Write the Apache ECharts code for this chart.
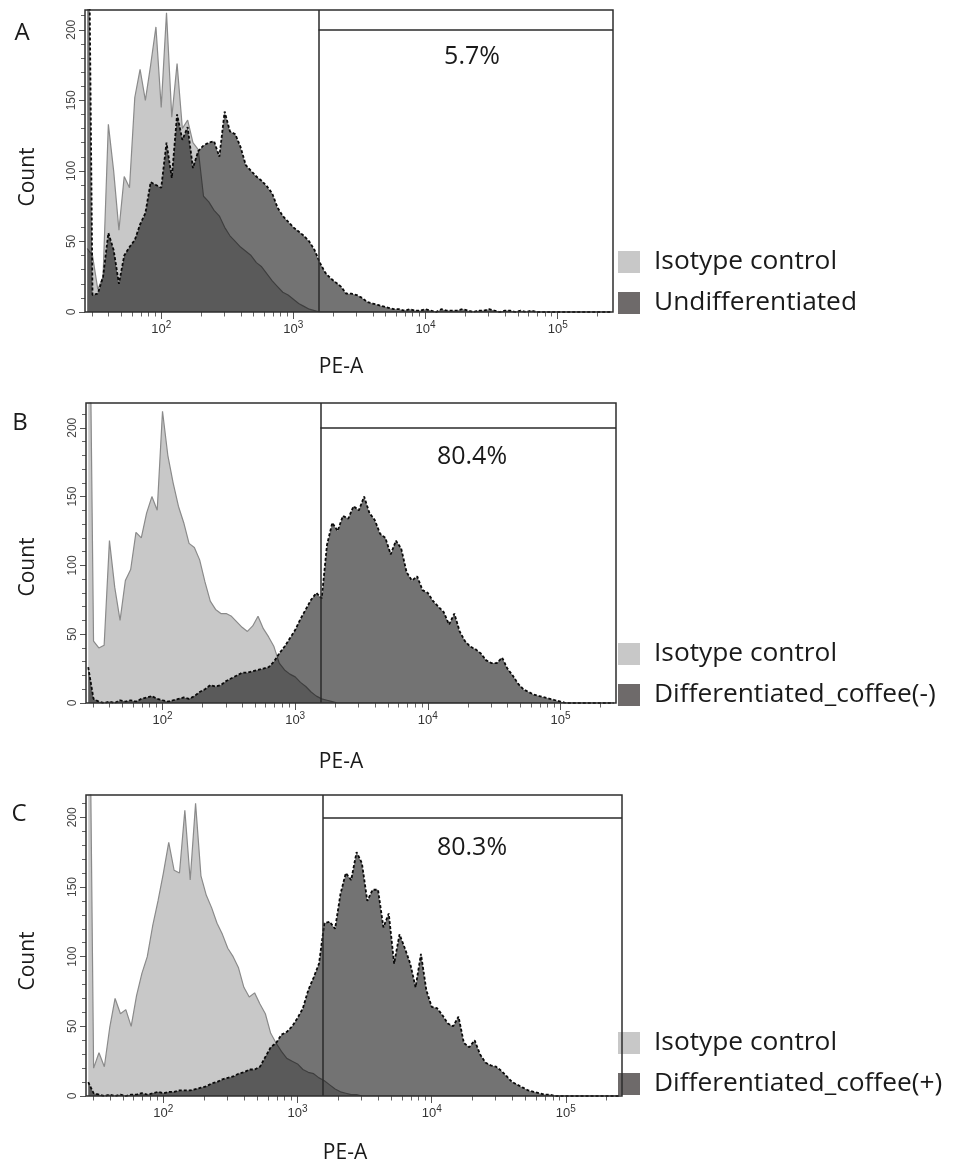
<!DOCTYPE html>
<html><head><meta charset="utf-8">
<script src="https://cdn.jsdelivr.net/npm/echarts@6/dist/echarts.min.js"></script>
<style>html,body{margin:0;padding:0;background:#fff}#c{width:958px;height:1169px}</style>
</head><body><div id="c"></div>
<script>
// bin centres, log10(PE-A)
const binLog = [
1.44,1.48,1.52,1.56,1.60,1.64,1.68,1.72,1.76,1.80,
1.84,1.88,1.92,1.96,2.00,2.04,2.08,2.12,2.16,2.20,
2.24,2.28,2.32,2.36,2.40,2.44,2.48,2.52,2.56,2.60,
2.64,2.68,2.72,2.76,2.80,2.84,2.88,2.92,2.96,3.00,
3.04,3.08,3.12,3.16,3.20,3.24,3.28,3.32,3.36,3.40,
3.44,3.48,3.52,3.56,3.60,3.64,3.68,3.72,3.76,3.80,
3.84,3.88,3.92,3.96,4.00,4.04,4.08,4.12,4.16,4.20,
4.24,4.28,4.32,4.36,4.40,4.44,4.48,4.52,4.56,4.60,
4.64,4.68,4.72,4.76,4.80,4.84,4.88,4.92,4.96,5.00,
5.04,5.08,5.12,5.16,5.20,5.24,5.28,5.32,5.36,5.40];

const isoA = [
45,40,16,25,133,100,58,96,88,152,
172,150,175,202,145,212,138,176,130,136,
120,115,82,78,72,68,60,54,50,46,
43,40,35,32,27,22,18,14,12,9,
6,4,2,1,0,0,0,0,0,0,
0,0,0,0,0,0,0,0,0,0,
0,0,0,0,0,0,0,0,0,0,
0,0,0,0,0,0,0,0,0,0,
0,0,0,0,0,0,0,0,0,0,
0,0,0,0,0,0,0,0,0,0];
const sampleA = [
400,12,13,25,56,44,20,40,46,51,
62,70,92,90,88,120,95,140,122,131,
102,114,118,120,121,110,142,128,126,117,
104,100,96,93,89,84,74,68,64,60,
57,54,50,44,35,28,24,21,18,13,
13,12,10,7,6,5,4,3,2,2,
1,2,1,1,2,1,0,2,1,1,
1,2,1,0,1,1,2,1,0,1,
1,0,1,0,1,0,0,0,0,0,
0,0,0,0,0,0,0,0,0,0];
const isoB = [
400,45,40,42,118,84,60,89,97,124,
120,138,150,140,212,180,160,143,131,116,
113,104,88,74,68,65,65,63,59,55,
52,56,63,54,48,41,29,24,21,19,
15,12,8,5,3,2,1,0,0,0,
0,0,0,0,0,0,0,0,0,0,
0,0,0,0,0,0,0,0,0,0,
0,0,0,0,0,0,0,0,0,0,
0,0,0,0,0,0,0,0,0,0,
0,0,0,0,0,0,0,0,0,0];
const sampleB = [
26,3,1,0,1,0,2,1,2,1,
3,4,5,3,2,1,2,3,4,3,
5,8,10,13,12,13,16,18,20,22,
22,23,24,25,26,30,36,41,47,53,
61,68,75,80,76,115,131,125,136,134,
143,140,150,138,133,123,120,108,118,112,
95,89,92,82,80,74,70,66,57,65,
52,45,41,39,36,31,29,29,33,25,
20,14,10,8,6,5,4,3,2,1,
0,0,0,0,0,0,0,0,0,0];
const isoC = [
400,20,31,21,49,70,59,62,50,72,
88,100,122,140,160,182,162,160,205,155,
210,158,144,135,124,116,106,100,92,78,
71,74,66,59,45,38,32,27,25,23,
19,17,16,13,11,8,5,3,2,1,
1,0,0,0,0,0,0,0,0,0,
0,0,0,0,0,0,0,0,0,0,
0,0,0,0,0,0,0,0,0,0,
0,0,0,0,0,0,0,0,0,0,
0,0,0,0,0,0,0,0,0,0];
const sampleC = [
10,2,1,0,1,0,1,0,1,1,
2,1,2,3,2,3,3,4,4,4,
5,6,7,9,10,12,13,14,16,17,
19,19,21,28,35,38,44,46,50,56,
63,76,85,95,124,125,120,145,160,155,
175,167,140,148,148,121,131,95,116,106,
95,78,102,76,64,63,58,52,50,57,
38,35,40,30,24,22,21,18,14,10,
8,6,4,3,2,1,1,0,0,0,
0,0,0,0,0,0,0,0,0,0];

const isoName = 'Isotype control';
const sampleNames = ['Undifferentiated', 'Differentiated_coffee(-)', 'Differentiated_coffee(+)'];
const panelLetters = ['A', 'B', 'C'];
const percentLabels = ['5.7%', '80.4%', '80.3%'];
const xMajorTicks = [100, 1000, 10000, 100000];
const xMinorTicks = [30,40,50,60,70,80,90,200,300,400,500,600,700,800,900,
  2000,3000,4000,5000,6000,7000,8000,9000,20000,30000,40000,50000,60000,70000,80000,90000,200000];
const yMajorTicks = [0, 50, 100, 150, 200];
const yMinorTicks = [10,20,30,40,60,70,80,90,110,120,130,140,160,170,180,190,210];
const xRange = [26.5, 262143];
const gateValue = 1550;
const gateCount = 200;

const isoData = [isoA, isoB, isoC];
const sampleData = [sampleA, sampleB, sampleC];

const layout = [
  {left:85, top:10, width:528, height:302, yMax:214, legendTop:249, letter:[22,33], count:[28,177], pe:[341,367], pct:[472,57]},
  {left:86, top:403, width:530, height:300, yMax:218, legendTop:641, letter:[20,423], count:[28,567], pe:[341,762], pct:[472,457]},
  {left:86, top:795, width:536, height:301, yMax:216, legendTop:1030, letter:[19,814], count:[28,961], pe:[345,1153], pct:[472,848]}
];

const L = Math.log10;
const xMin = L(xRange[0]), xMax = L(xRange[1]);
const gLog = L(gateValue);
const FONT = 'Open Sans';
const TICKFONT = 'Liberation Sans';

const grids = [], xAxes = [], yAxes = [], series = [], legends = [], graphics = [];
layout.forEach((g, p) => {
  grids.push({left:g.left, top:g.top, width:g.width, height:g.height, show:true,
    borderColor:'#2e2e2e', borderWidth:1.5, backgroundColor:'rgba(0,0,0,0)', z:10});
  const baseX = {type:'value', gridIndex:p, position:'bottom', offset:0, min:xMin, max:xMax,
    axisLine:{show:false}, splitLine:{show:false}};
  xAxes.push(Object.assign({}, baseX, {
    axisTick:{show:true, length:7, customValues:xMajorTicks.map(L), lineStyle:{color:'#555', width:1}},
    axisLabel:{show:true, customValues:xMajorTicks.map(L), margin:8,
      formatter: v => '{b|10}{s|' + Math.round(v) + '}',
      rich:{b:{fontSize:13, fontFamily:TICKFONT, color:'#333', lineHeight:16, verticalAlign:'bottom'},
            s:{fontSize:10, fontFamily:TICKFONT, color:'#333', lineHeight:10, verticalAlign:'top'}}}
  }));
  xAxes.push(Object.assign({}, baseX, {
    axisTick:{show:true, length:4.5, customValues:xMinorTicks.map(L), lineStyle:{color:'#666', width:1}},
    axisLabel:{show:false}
  }));
  const baseY = {type:'value', gridIndex:p, position:'left', offset:0, min:0, max:g.yMax,
    axisLine:{show:false}, splitLine:{show:false}};
  yAxes.push(Object.assign({}, baseY, {
    axisTick:{show:true, length:6, customValues:yMajorTicks, lineStyle:{color:'#555', width:1}},
    axisLabel:{show:true, customValues:yMajorTicks, rotate:90, margin:7, fontSize:12, fontFamily:TICKFONT, color:'#444'}
  }));
  yAxes.push(Object.assign({}, baseY, {
    axisTick:{show:true, length:4, customValues:yMinorTicks, lineStyle:{color:'#666', width:1}},
    axisLabel:{show:false}
  }));
  const xi = 2 * p, yi = 2 * p;
  series.push({
    type:'line', name:isoName, xAxisIndex:xi, yAxisIndex:yi,
    data: binLog.map((x, i) => [x, isoData[p][i]]),
    symbol:'none', silent:true, animation:false, z:2,
    itemStyle:{color:'#c8c8c8'},
    lineStyle:{color:'#8a8a8a', width:1.2},
    areaStyle:{color:'#c8c8c8', opacity:1}
  });
  series.push({
    type:'line', name:sampleNames[p], xAxisIndex:xi, yAxisIndex:yi,
    data: binLog.map((x, i) => [x, sampleData[p][i]]),
    symbol:'none', silent:true, animation:false, z:3,
    itemStyle:{color:'#6e6a6a'},
    lineStyle:{color:'#0a0a0a', width:1.8, type:[3,2]},
    areaStyle:{color:'rgba(0,0,0,0.55)', opacity:1},
    markLine:{
      silent:true, animation:false, symbol:['none','none'],
      label:{show:false},
      lineStyle:{color:'#2a2a2a', width:1.5, type:'solid'},
      data:[
        [{coord:[gLog, 0]}, {coord:[gLog, g.yMax]}],
        [{coord:[gLog, gateCount]}, {coord:[xMax, gateCount]}]
      ]
    }
  });
  legends.push({
    orient:'vertical', left:618, top:g.legendTop, padding:0, itemWidth:22, itemHeight:22, itemGap:15,
    icon:'rect', selectedMode:false,
    data:[{name:isoName, itemStyle:{color:'#c8c8c8', borderWidth:0}},
          {name:sampleNames[p], itemStyle:{color:'#6e6a6a', borderWidth:0}}],
    textStyle:{fontSize:26.3, fontFamily:FONT, color:'#1a1a1a', padding:[4,0,0,9]}
  });
  graphics.push({type:'text', x:g.letter[0], y:g.letter[1],
    style:{text:panelLetters[p], fontSize:24, fontFamily:FONT, fill:'#1a1a1a', align:'center', verticalAlign:'middle'}});
  graphics.push({type:'text', x:g.count[0], y:g.count[1], rotation:Math.PI/2,
    style:{text:'Count', fontSize:21, fontFamily:FONT, fill:'#1a1a1a', align:'center', verticalAlign:'middle'}});
  graphics.push({type:'text', x:g.pe[0], y:g.pe[1],
    style:{text:'PE-A', fontSize:21, fontFamily:FONT, fill:'#1a1a1a', align:'center', verticalAlign:'middle'}});
  graphics.push({type:'text', x:g.pct[0], y:g.pct[1], z:20,
    style:{text:percentLabels[p], fontSize:25, fontFamily:FONT, fill:'#1a1a1a', align:'center', verticalAlign:'middle'}});
});

const chart = echarts.init(document.getElementById('c'), null, {renderer:'canvas'});
chart.setOption({
  animation:false,
  backgroundColor:'#ffffff',
  grid:grids, xAxis:xAxes, yAxis:yAxes, series:series, legend:legends,
  graphic:{elements:graphics}
});
</script>
</body></html>
